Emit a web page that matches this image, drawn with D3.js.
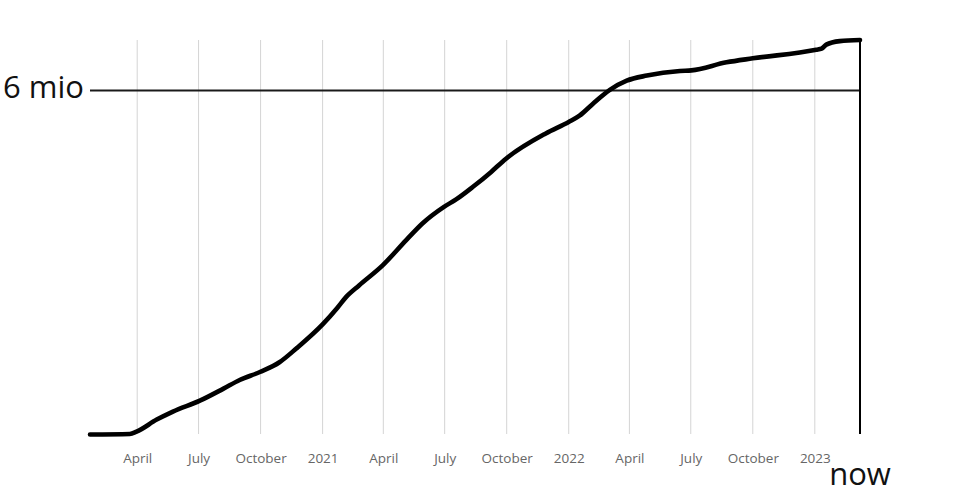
<!DOCTYPE html>
<html>
<head>
<meta charset="utf-8">
<script src="https://cdn.jsdelivr.net/npm/d3@7"></script>
<style>
  body { margin: 0; background: #fff; }
  text { font-family: "Open Sans", sans-serif; }
</style>
</head>
<body>
<svg id="chart" width="960" height="500"></svg>
<script>
// Cumulative values (millions)
const dates = ["2020-01-22","2020-03-21","2020-03-31","2020-04-30","2020-05-24","2020-07-03","2020-08-07","2020-08-31","2020-09-30","2020-10-29","2020-11-23","2021-01-01","2021-01-23","2021-02-05","2021-02-24","2021-03-31","2021-05-05","2021-05-29","2021-06-30","2021-07-18","2021-08-12","2021-09-08","2021-09-30","2021-11-28","2022-01-01","2022-01-17","2022-02-06","2022-03-03","2022-03-28","2022-04-27","2022-06-15","2022-07-02","2022-08-23","2022-10-01","2023-01-03","2023-01-11","2023-01-18","2023-02-07","2023-03-09"];
const values = [0.00,0.01,0.05,0.26,0.40,0.59,0.80,0.95,1.09,1.26,1.50,1.92,2.21,2.40,2.60,2.95,3.39,3.68,3.97,4.10,4.32,4.58,4.81,5.25,5.45,5.56,5.77,6.01,6.17,6.26,6.34,6.35,6.49,6.56,6.71,6.73,6.80,6.86,6.88];
const startDate = "2020-01-22";
const nowDate = "2023-03-09";
const refValue = 6;
const refLabel = "6 mio";
const nowLabel = "now";
const monthNames = ["January","February","March","April","May","June","July","August","September","October","November","December"];

const parse = d3.timeParse("%Y-%m-%d");
const data = dates.map((d, i) => ({ date: parse(d), value: values[i] }));

const svg = d3.select("#chart");
const x = d3.scaleTime().domain([parse(startDate), parse(nowDate)]).range([90, 860]);
const y = d3.scaleLinear().domain([0, 6.88]).range([434.5, 40]);

const ticks = d3.timeMonth.every(3).range(d3.timeMonth.ceil(parse(startDate)), parse(nowDate));
const fmt = d => d.getMonth() === 0 ? String(d.getFullYear()) : monthNames[d.getMonth()];

// vertical gridlines
svg.append("g").selectAll("line").data(ticks).join("line")
  .attr("x1", d => x(d)).attr("x2", d => x(d))
  .attr("y1", 40).attr("y2", 434)
  .attr("stroke", "#d4d4d4").attr("stroke-width", 1);

// x axis labels
const xAxis = d3.axisBottom(x).tickValues(ticks).tickFormat(fmt).tickSize(0).tickPadding(0);
const gx = svg.append("g").attr("transform", "translate(0,453.5)").call(xAxis);
gx.select(".domain").remove();
gx.selectAll("text").attr("font-size", 13.5).attr("fill", "#666").attr("font-family", "Open Sans, sans-serif");

// reference line at 6 mio
svg.append("line")
  .attr("x1", x(parse(startDate))).attr("x2", x(parse(nowDate)))
  .attr("y1", y(refValue)).attr("y2", y(refValue))
  .attr("stroke", "#1a1a1a").attr("stroke-width", 2);
svg.append("text")
  .attr("x", 84).attr("y", 97.7)
  .attr("text-anchor", "end")
  .attr("font-size", 31).attr("fill", "#111").text(refLabel);

// now line
svg.append("line")
  .attr("x1", x(parse(nowDate))).attr("x2", x(parse(nowDate)))
  .attr("y1", 39).attr("y2", 434)
  .attr("stroke", "#000").attr("stroke-width", 2);
svg.append("text")
  .attr("x", x(parse(nowDate))).attr("y", 484.5)
  .attr("text-anchor", "middle")
  .attr("font-size", 31).attr("fill", "#111").text(nowLabel);

// data line
const line = d3.line().x(d => x(d.date)).y(d => y(d.value)).curve(d3.curveMonotoneX);
svg.append("path").datum(data)
  .attr("d", line)
  .attr("fill", "none").attr("stroke", "#000")
  .attr("stroke-width", 4.6).attr("stroke-linejoin", "round").attr("stroke-linecap", "round");
</script>
</body>
</html>
